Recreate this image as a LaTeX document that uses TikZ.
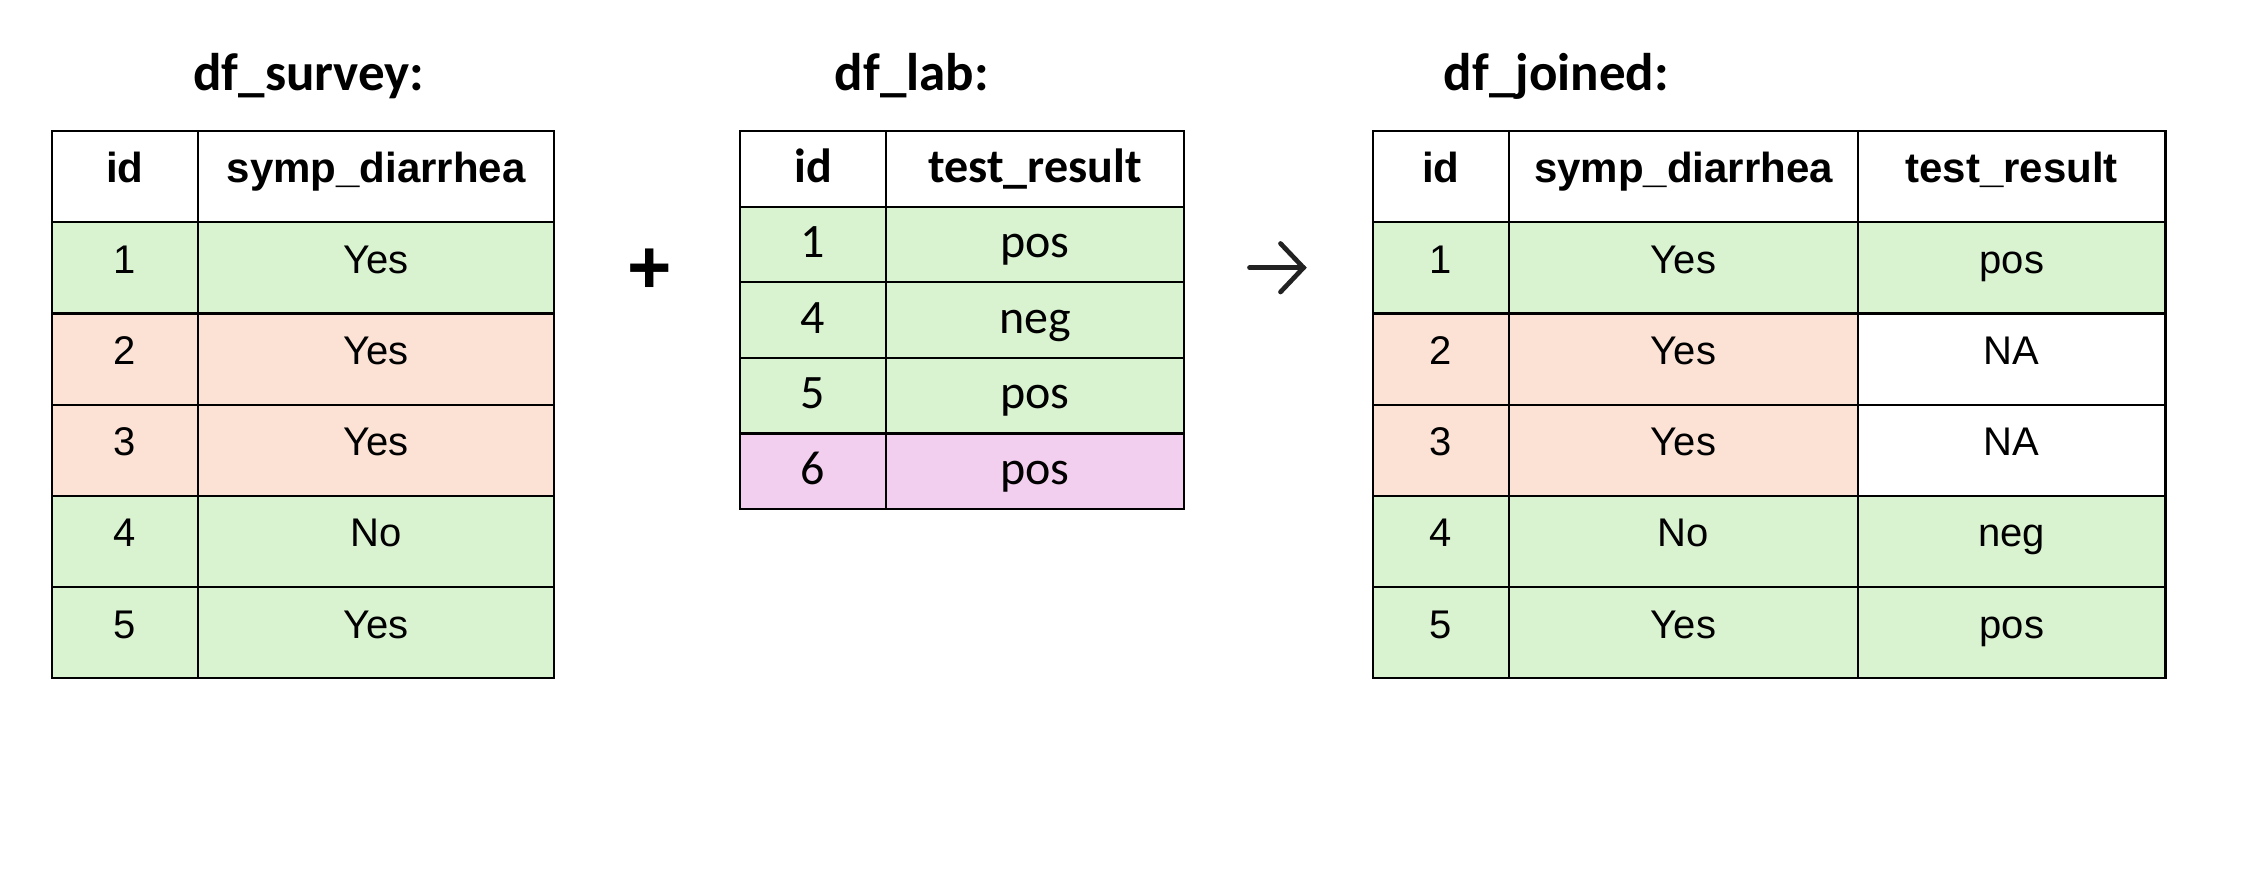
\documentclass[tikz,border=0pt]{standalone}
\usepackage{fontspec}
\setmainfont{Liberation Sans}
\newfontfamily\labfont{Carlito}

\definecolor{rowgreen}{HTML}{D9F2D0}
\definecolor{rowpeach}{HTML}{FBE2D5}
\definecolor{rowpink}{HTML}{F2CEEF}
\definecolor{signgray}{HTML}{222222}

\tikzset{
    cell/.style={draw=black, line width=1.1pt, inner sep=0pt, anchor=north west, text height=25.5pt},
    tallcell/.style={cell, text depth=20.1pt, font=\fontsize{20}{24}\selectfont},
    tallhead/.style={tallcell, font=\bfseries\fontsize{21}{25}\selectfont},
    shortcell/.style={cell, text depth=12.3pt, font=\labfont\fontsize{24}{28}\selectfont},
    shorthead/.style={shortcell, font=\labfont\bfseries\fontsize{24}{28}\selectfont},
    tabletitle/.style={anchor=base west, inner sep=0pt, font=\labfont\bfseries\fontsize{26.5}{30}\selectfont},
    signline/.style={draw=signgray, line width=2.35pt, line cap=round, line join=miter}
}

\begin{document}
\begin{tikzpicture}[x=0.5pt,y=-0.5pt]
    \useasboundingbox (0,0) rectangle (2268,889);

    % titles
    \node[tabletitle] (survey-title) at (193,90) {df\_survey:};
    \node[tabletitle] (lab-title) at (834.5,90) {df\_lab:};
    \node[tabletitle] (joined-title) at (1443.5,90) {df\_joined:};

    % df_survey
    \node[tallhead, minimum width=73.25pt] (survey-h-id) at (50.5,130) {id};
    \node[tallhead, minimum width=178pt] (survey-h-val) at (197,130) {symp\_diarrhea};
    \foreach \id/\val/\col [count=\r] in {1/Yes/rowgreen, 2/Yes/rowpeach, 3/Yes/rowpeach, 4/No/rowgreen, 5/Yes/rowgreen}
    {
        \node[tallcell, fill=\col, minimum width=73.25pt] (survey-\r-id) at (50.5,{130+91.2*\r}) {\id};
        \node[tallcell, fill=\col, minimum width=178pt] (survey-\r-val) at (197,{130+91.2*\r}) {\val};
    }

    % plus
    \node[anchor=base, inner sep=0pt, font=\bfseries\fontsize{38}{40}\selectfont] (plus) at (650,293) {+};

    % df_lab
    \node[shorthead, minimum width=73pt] (lab-h-id) at (739,130) {id};
    \node[shorthead, minimum width=149pt] (lab-h-res) at (885,130) {test\_result};
    \foreach \id/\res/\col [count=\r] in {1/pos/rowgreen, 4/neg/rowgreen, 5/pos/rowgreen, 6/pos/rowpink}
    {
        \node[shortcell, fill=\col, minimum width=73pt] (lab-\r-id) at (739,{130+75.6*\r}) {\id};
        \node[shortcell, fill=\col, minimum width=149pt] (lab-\r-res) at (885,{130+75.6*\r}) {\res};
    }

    % arrow
    \coordinate (arrow-start) at (1249.5,267.7);
    \coordinate (arrow-tip) at (1303.5,267.7);
    \coordinate (arrow-up) at (1280.5,243.5);
    \coordinate (arrow-down) at (1280.5,292);
    \draw[signline] (arrow-start) -- (arrow-tip);
    \draw[signline] (arrow-up) -- (arrow-tip) -- (arrow-down);

    % df_joined
    \node[tallhead, minimum width=68pt] (joined-h-id) at (1371.7,130) {id};
    \node[tallhead, minimum width=174.65pt] (joined-h-val) at (1507.7,130) {symp\_diarrhea};
    \node[tallhead, minimum width=153.65pt] (joined-h-res) at (1857,130) {test\_result};
    \foreach \id/\val/\res/\col/\rescol [count=\r] in {1/Yes/pos/rowgreen/rowgreen, 2/Yes/NA/rowpeach/white, 3/Yes/NA/rowpeach/white, 4/No/neg/rowgreen/rowgreen, 5/Yes/pos/rowgreen/rowgreen}
    {
        \node[tallcell, fill=\col, minimum width=68pt] (joined-\r-id) at (1371.7,{130+91.2*\r}) {\id};
        \node[tallcell, fill=\col, minimum width=174.65pt] (joined-\r-val) at (1507.7,{130+91.2*\r}) {\val};
        \node[tallcell, fill=\rescol, minimum width=153.65pt] (joined-\r-res) at (1857,{130+91.2*\r}) {\res};
    }
\end{tikzpicture}
\end{document}
